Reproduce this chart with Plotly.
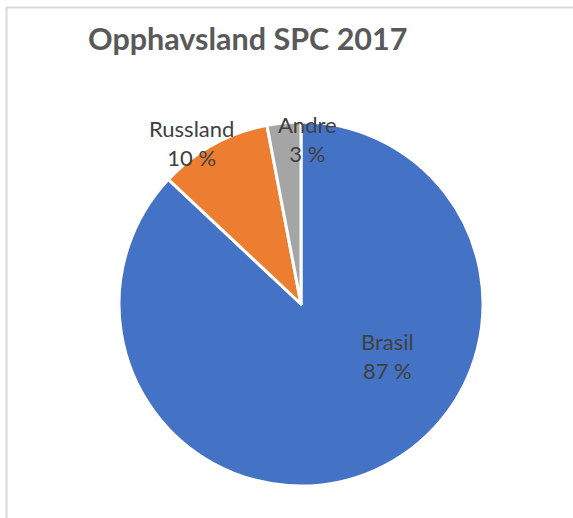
import plotly.graph_objects as go

labels = ["Brasil", "Russland", "Andre"]
values = [87, 10, 3]
colors = ["#4472C4", "#ED7D31", "#A5A5A5"]
title_text = "Opphavsland SPC 2017"

W, H = 573, 518
# pie geometry in pixels (screen coordinates)
cx, cy, r = 301, 304, 182
# label centres (screen pixels) for each slice
label_pos = [(387, 356), (191.5, 143.5), (307, 139)]

fig = go.Figure(go.Pie(
    labels=labels, values=values, sort=False, direction="clockwise", rotation=0,
    marker=dict(colors=colors, line=dict(color="white", width=3)),
    textinfo="none", hoverinfo="label+percent", showlegend=False,
    domain=dict(x=[(cx - r) / W, (cx + r) / W], y=[(H - cy - r) / H, (H - cy + r) / H]),
))

total = sum(values)
anns = []
for lab, v, (px, py) in zip(labels, values, label_pos):
    anns.append(dict(
        text=f"{lab}<br>{round(100 * v / total)} %", x=px / W, y=1 - py / H,
        xref="paper", yref="paper", showarrow=False, xanchor="center", yanchor="middle",
        font=dict(family="Lato", size=22, color="#404040"), align="center",
    ))
anns.append(dict(
    text=f"<b>{title_text}</b>", x=247 / W, y=1 - 38 / H, xref="paper", yref="paper",
    showarrow=False, xanchor="center", yanchor="middle",
    font=dict(family="Lato", size=30.5, color="#595959"),
))

fig.update_layout(
    width=W, height=H, margin=dict(l=0, r=0, t=0, b=0),
    paper_bgcolor="white", plot_bgcolor="white", annotations=anns,
    shapes=[
        dict(type="line", xref="paper", yref="paper", x0=6 / W, x1=1.0,
             y0=1 - 7.5 / H, y1=1 - 7.5 / H, line=dict(color="#D9D9D9", width=2)),
        dict(type="line", xref="paper", yref="paper", x0=6.5 / W, x1=6.5 / W,
             y0=0, y1=1 - 7.5 / H, line=dict(color="#D9D9D9", width=2)),
    ],
)
fig.write_html("out.html", config={"displayModeBar": False},
               post_script="document.body.style.margin='0';")
